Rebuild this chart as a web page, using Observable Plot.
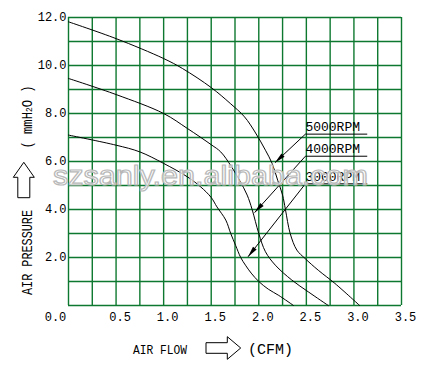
<!DOCTYPE html>
<html><head><meta charset="utf-8">
<script src="https://cdn.jsdelivr.net/npm/d3@7"></script>
<script src="https://cdn.jsdelivr.net/npm/@observablehq/plot@0.6"></script>
<style>body{margin:0;background:#fff;} #chart{position:relative;width:422px;height:373px;}</style>
</head><body><div id="chart"></div>
<script>
// ---- data ----
const flow5000 = [0, 0.5, 1.0, 1.2, 1.5, 1.7, 1.85, 1.96, 2.07, 2.14, 2.2, 2.25, 2.28, 2.33, 2.4, 2.486, 2.625, 2.8, 3.06];
const pres5000 = [11.82, 11.12, 10.29, 9.87, 9.08, 8.42, 7.86, 7.23, 6.47, 5.92, 5.2, 4.6, 4.0, 3.0, 2.31, 1.96, 1.47, 0.92, 0];
const flow4000 = [0, 0.5, 1.0, 1.25, 1.5, 1.6, 1.71, 1.8, 1.878, 1.93, 2.0, 2.07, 2.174, 2.347, 2.52, 2.73];
const pres4000 = [9.46, 8.79, 8.0, 7.375, 6.7, 6.4, 5.8, 5.2, 4.6, 4.0, 3.0, 2.24, 1.68, 1.06, 0.57, 0];
const flow3000 = [0, 0.5, 0.75, 1.0, 1.25, 1.39, 1.5, 1.56, 1.653, 1.705, 1.757, 1.81, 1.86, 1.92, 2.0, 2.1, 2.21, 2.365];
const pres3000 = [7.1, 6.68, 6.4, 5.92, 5.36, 4.94, 4.5, 4.11, 3.56, 3.0, 2.5, 2.0, 1.68, 1.35, 1.0, 0.68, 0.42, 0];
const xTicks = [0.5, 1.0, 1.5, 2.0, 2.5, 3.0, 3.5];
const xOrigin = [0];
const yTicks = [2, 4, 6, 8, 10, 12];
const xGrid = d3.range(0, 3.5001, 0.25);
const yGrid = d3.range(0, 12.001, 1);
const rpmLabels = ["5000RPM", "4000RPM", "3000RPM"];
const labelFlowStart = [2.49, 2.49, 2.49];
const labelFlowEnd = [3.14, 3.14, 3.14];
const labelPres = [7.14, 6.22, 5.07];
const tipFlow = [2.17, 1.956, 1.887];
const tipPres = [5.95, 3.87, 2.03];

const rows = [];
[["5000RPM", flow5000, pres5000], ["4000RPM", flow4000, pres4000], ["3000RPM", flow3000, pres3000]]
  .forEach(([rpm, f, p]) => f.forEach((v, i) => rows.push({rpm, flow: v, pres: p[i]})));
const annot = rpmLabels.map((label, i) => ({
  label, x0: labelFlowStart[i], x1: labelFlowEnd[i], y: labelPres[i], tx: tipFlow[i], ty: tipPres[i]
}));

const green = "#0d782f";
const fmt = d3.format(".1f");
const svg = Plot.plot({
  width: 422, height: 373,
  marginLeft: 68, marginRight: 21, marginTop: 17, marginBottom: 68,
  style: {fontFamily: "Liberation Mono", fontSize: "12px", background: "transparent", color: "#000"},
  x: {domain: [0, 3.5], label: null},
  y: {domain: [0, 12], label: null},
  marks: [
    Plot.ruleX(xGrid, {stroke: green, strokeWidth: 1.4}),
    Plot.ruleY(yGrid, {stroke: green, strokeWidth: 1.4}),
    Plot.axisX(xTicks, {tickSize: 0, tickPadding: 7, tickFormat: fmt, dx: 4, label: null}),
    Plot.axisX(xOrigin, {tickSize: 0, tickPadding: 7, tickFormat: fmt, dx: -13, label: null}),
    Plot.axisY(yTicks, {tickSize: 0, tickPadding: 2, tickFormat: fmt, label: null}),
    Plot.line(rows, {x: "flow", y: "pres", z: "rpm", stroke: "black", strokeWidth: 1, curve: "catmull-rom"}),
    Plot.link(annot, {x1: "x0", x2: "x1", y1: "y", y2: "y", stroke: "black", strokeWidth: 1}),
    Plot.link(annot, {x1: "x0", y1: "y", x2: "tx", y2: "ty", stroke: "black", strokeWidth: 1, markerEnd: "arrow"}),
    Plot.text(annot, {x: "x0", y: "y", text: "label", textAnchor: "start", dy: -7, fontSize: 13})
  ]
});
document.getElementById("chart").appendChild(svg);

// filled arrowheads
d3.select(svg).selectAll("marker")
  .attr("viewBox", "-11 -3 12 6").attr("markerWidth", 12).attr("markerHeight", 6)
  .attr("fill", "black").attr("stroke", "none").attr("overflow", "visible")
  .selectAll("path").attr("d", "M-11,-2.3L0,0L-11,2.3Z");

// axis titles and outline arrows
const g = d3.select(svg).append("g").attr("font-family", "Liberation Mono").attr("fill", "black")
  .attr("text-anchor", "start");
g.append("text").attr("x", 133).attr("y", 353.5).attr("font-size", 13)
  .attr("textLength", 54).attr("lengthAdjust", "spacingAndGlyphs").text("AIR FLOW");
g.append("path").attr("d", "M206,342.7H227.3V336.7L240.7,348L227.3,359.3V353.3H206Z")
  .attr("fill", "white").attr("stroke", "black").attr("stroke-width", 1);
g.append("text").attr("x", 248).attr("y", 354).attr("font-size", 14)
  .attr("textLength", 45).attr("lengthAdjust", "spacingAndGlyphs").text("(CFM)");
g.append("text").attr("transform", "translate(31.5,252.5) rotate(-90)").attr("text-anchor", "middle")
  .attr("font-size", 15).attr("textLength", 85).attr("lengthAdjust", "spacingAndGlyphs").text("AIR PRESSURE");
g.append("path").attr("d", "M23.8,162.3L34.3,177.3H29.8V197.7H17.8V177.3H13.3Z")
  .attr("fill", "white").attr("stroke", "black").attr("stroke-width", 1);
const u = g.append("text").attr("transform", "translate(31.5,148.5) rotate(-90)")
  .attr("font-size", 14).attr("textLength", 63).attr("lengthAdjust", "spacingAndGlyphs");
u.append("tspan").text("( mmH");
u.append("tspan").attr("font-size", 9).text("2");
u.append("tspan").text("O )");

// watermark
d3.select(svg).append("text").attr("x", 53).attr("y", 185).attr("text-anchor", "start")
  .attr("font-family", "Liberation Sans").attr("font-size", 27)
  .attr("textLength", 315).attr("lengthAdjust", "spacingAndGlyphs")
  .attr("fill", "white").attr("fill-opacity", 0.75).attr("stroke", "#b8b8b8").attr("stroke-width", 1.2)
  .text("szsanly.en.alibaba.com");
</script>
</body></html>
